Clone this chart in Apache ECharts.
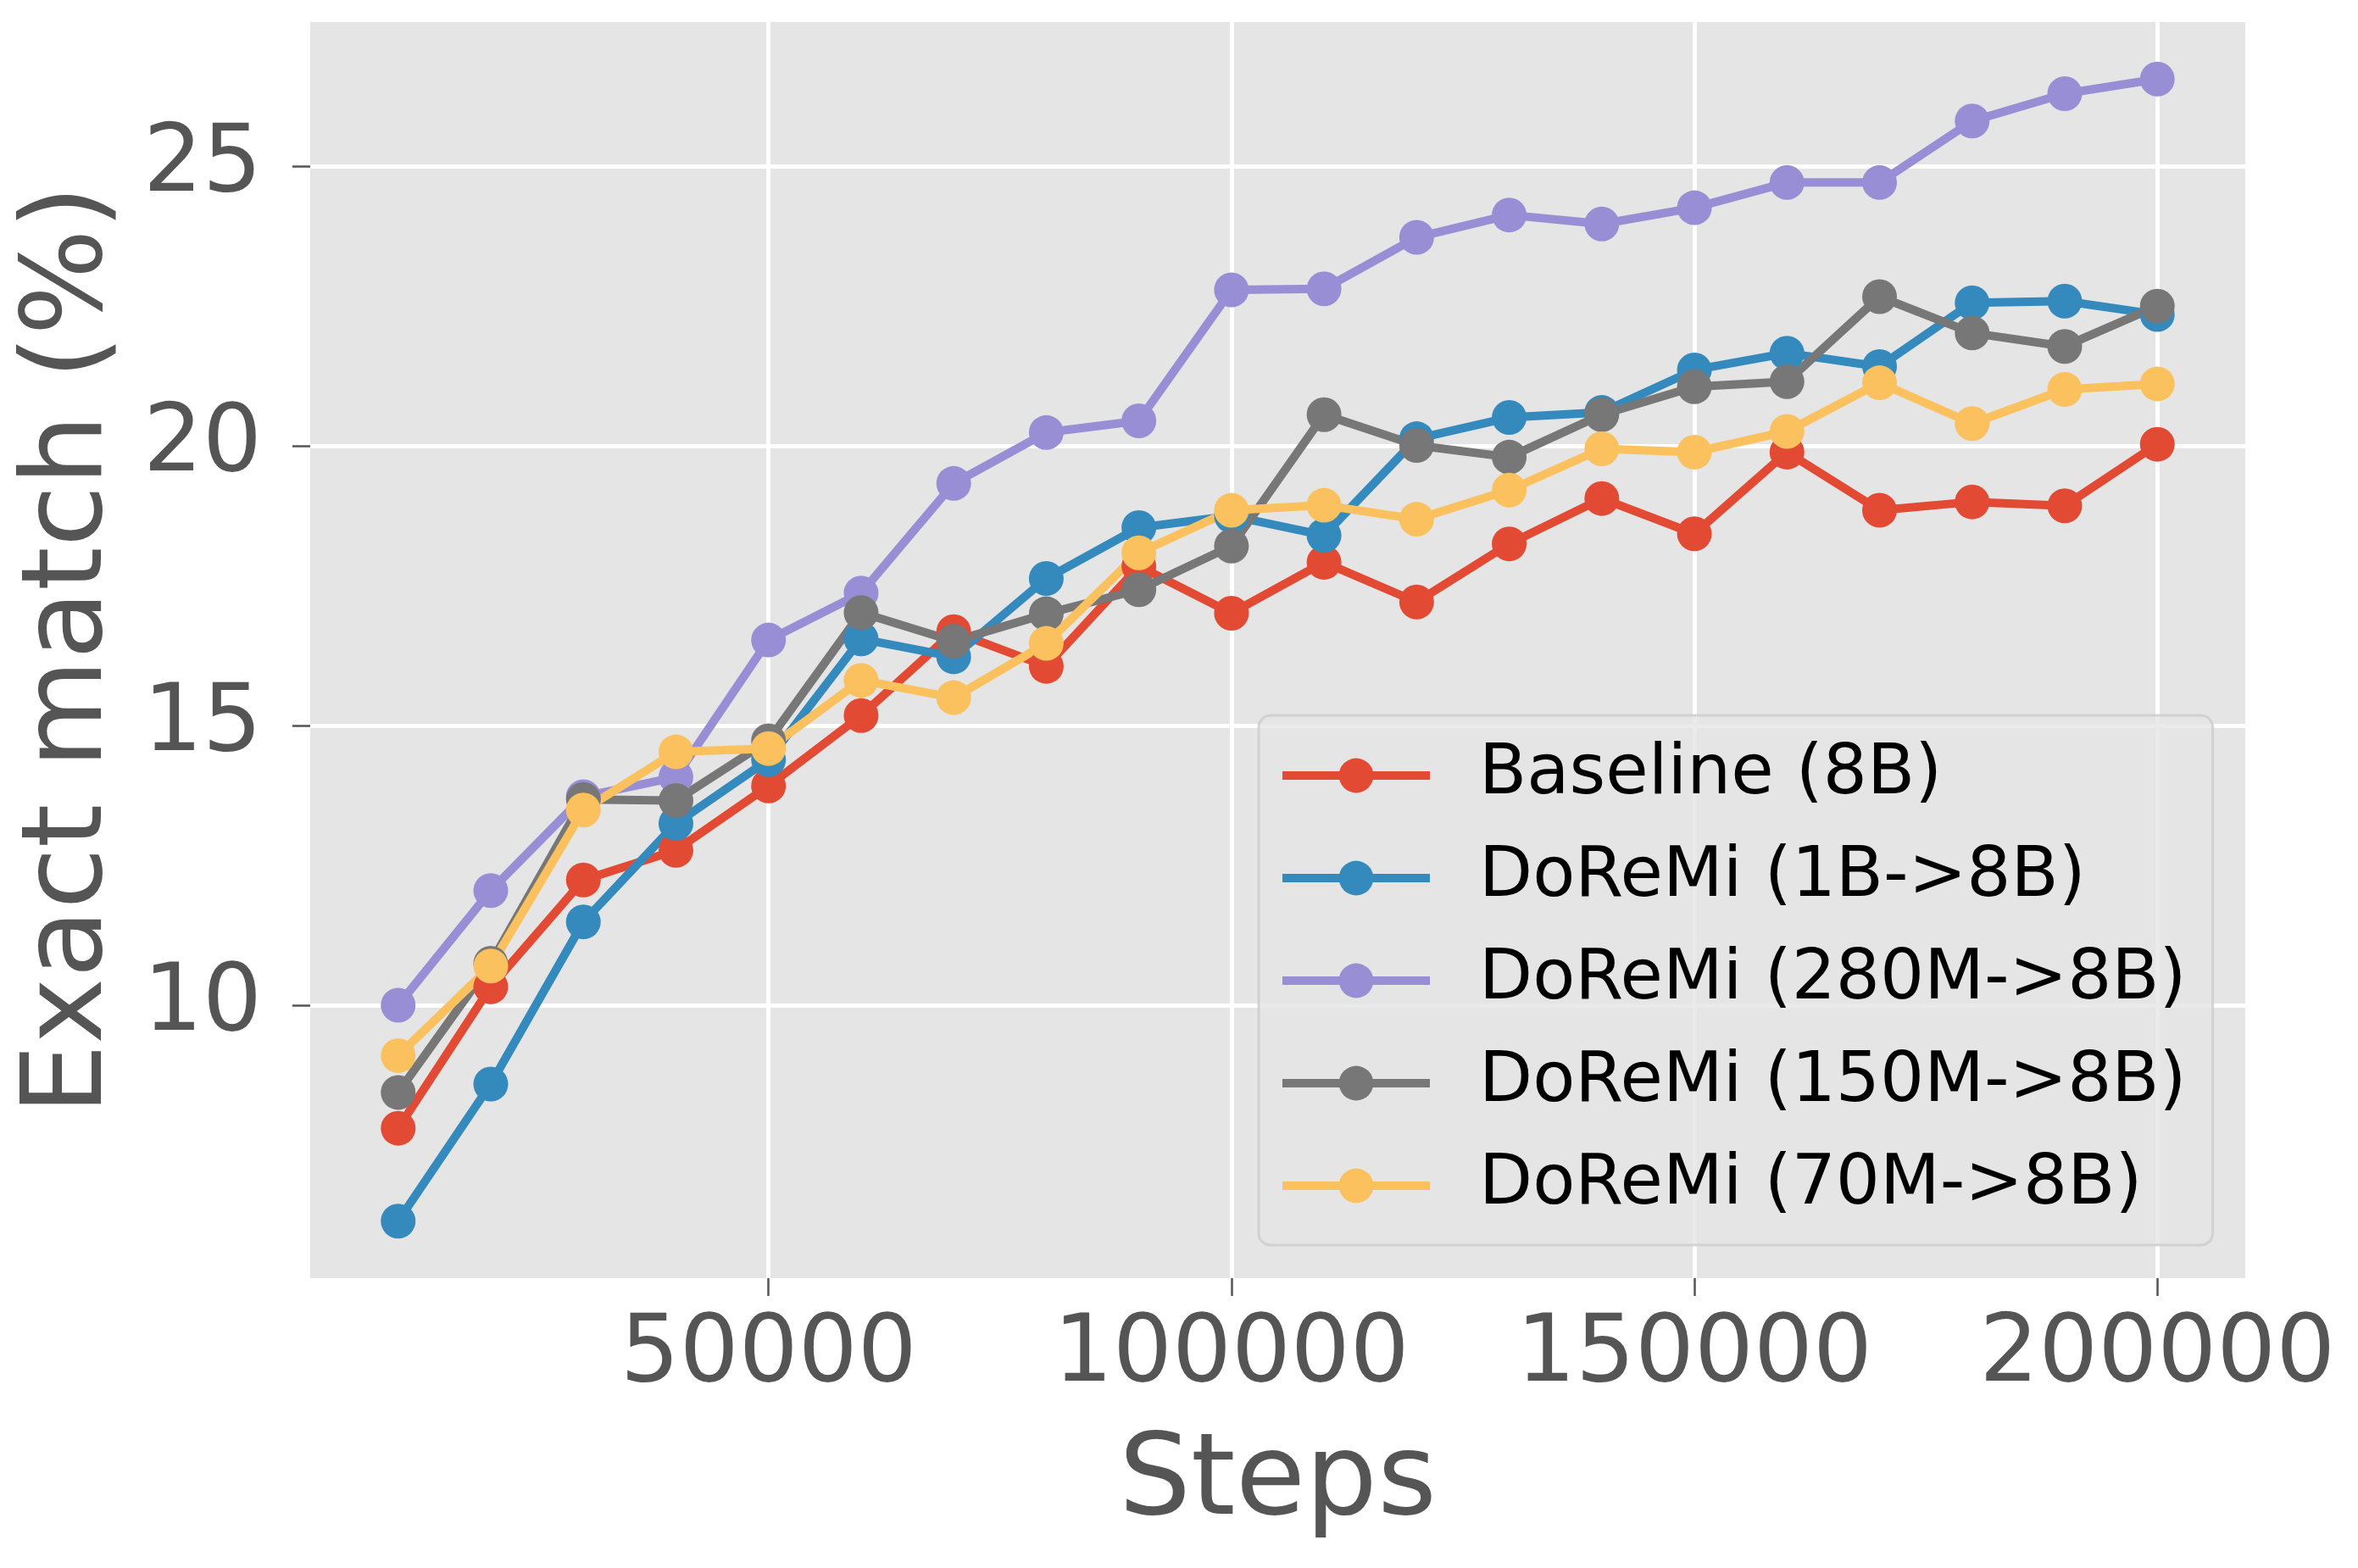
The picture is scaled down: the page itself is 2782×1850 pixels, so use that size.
<!DOCTYPE html>
<html lang="en">
<head>
    <meta charset="UTF-8">
    <title>Exact match vs steps</title>
    <style>
        html, body { margin: 0; padding: 0; background: #fff; }
        #main { width: 2782px; height: 1850px; }
    </style>
</head>
<body>
    <div id="main"></div>
    <script src="https://cdn.jsdelivr.net/npm/echarts@6/dist/echarts.min.js"></script>
    <script>
        // training steps (x)
        var steps = [10000, 20000, 30000, 40000, 50000, 60000, 70000, 80000, 90000, 100000,
                     110000, 120000, 130000, 140000, 150000, 160000, 170000, 180000, 190000, 200000];

        var baseline8B = [7.80, 10.33, 12.24, 12.77, 13.92, 15.18, 16.68, 16.06, 17.85, 17.01,
                          17.92, 17.21, 18.25, 19.06, 18.43, 19.89, 18.85, 19.00, 18.93, 20.03];
        var doremi1B = [6.14, 8.59, 11.49, 13.25, 14.39, 16.55, 16.23, 17.63, 18.54, 18.75,
                        18.40, 20.13, 20.51, 20.60, 21.36, 21.66, 21.42, 22.56, 22.59, 22.35];
        var doremi280M = [10.00, 12.05, 13.73, 14.08, 16.53, 17.37, 19.33, 20.24, 20.45, 22.79,
                          22.81, 23.73, 24.13, 23.97, 24.26, 24.71, 24.71, 25.81, 26.30, 26.56];
        var doremi150M = [8.44, 10.75, 13.68, 13.66, 14.73, 17.02, 16.51, 17.00, 17.43, 18.21,
                          20.56, 20.01, 19.80, 20.56, 21.06, 21.15, 22.67, 22.02, 21.78, 22.50];
        var doremi70M = [9.10, 10.70, 13.49, 14.53, 14.59, 15.81, 15.50, 16.47, 18.09, 18.85,
                         18.94, 18.69, 19.21, 19.95, 19.89, 20.26, 21.13, 20.40, 21.01, 21.11];

        var seriesNames = ['Baseline (8B)', 'DoReMi (1B->8B)', 'DoReMi (280M->8B)', 'DoReMi (150M->8B)', 'DoReMi (70M->8B)'];
        var seriesValues = [baseline8B, doremi1B, doremi280M, doremi150M, doremi70M];
        var colors = ['#E24A33', '#348ABD', '#988ED5', '#777777', '#FBC15E'];

        var xTicks = [50000, 100000, 150000, 200000];
        var yTicks = [10, 15, 20, 25];

        var font = 'DejaVu Sans';

        function pairs(vals) {
            return vals.map(function (v, i) { return [steps[i], v]; });
        }

        var myChart = echarts.init(document.getElementById('main'));

        var series = seriesNames.map(function (name, i) {
            return {
                name: name,
                type: 'line',
                data: pairs(seriesValues[i]),
                symbol: 'circle',
                symbolSize: 41,
                showAllSymbol: true,
                lineStyle: { width: 10, color: colors[i] },
                itemStyle: { color: colors[i] }
            };
        });

        var option = {
            animation: false,
            backgroundColor: '#ffffff',
            color: colors,
            grid: {
                left: 366,
                right: 133,
                top: 26,
                bottom: 342,
                show: true,
                backgroundColor: '#E5E5E5',
                borderWidth: 0
            },
            legend: {
                left: 1485,
                top: 844,
                orient: 'vertical',
                itemWidth: 174,
                itemHeight: 51,
                itemGap: 39,
                padding: [30, 31, 29, 23],
                backgroundColor: 'rgba(229,229,229,0.8)',
                borderColor: 'rgba(204,204,204,0.8)',
                borderWidth: 3,
                borderRadius: 14,
                lineStyle: { width: 10 },
                textStyle: {
                    fontFamily: font,
                    fontSize: 82,
                    color: '#000',
                    padding: [0, 0, 0, 53]
                },
                data: seriesNames
            },
            xAxis: {
                type: 'value',
                min: 500,
                max: 209500,
                name: 'Steps',
                nameLocation: 'middle',
                nameGap: 176,
                nameTextStyle: { fontFamily: font, fontSize: 134, color: '#555555' },
                axisLine: { show: false },
                axisTick: {
                    show: true,
                    length: 21,
                    customValues: xTicks,
                    lineStyle: { color: '#555555', width: 2.5 }
                },
                axisLabel: {
                    customValues: xTicks,
                    margin: 37,
                    fontFamily: font,
                    fontSize: 110,
                    color: '#555555',
                    formatter: function (v) { return String(v); }
                },
                splitLine: { show: true, lineStyle: { color: '#ffffff', width: 5 } }
            },
            yAxis: {
                type: 'value',
                min: 5.12,
                max: 27.58,
                name: 'Exact match (%)',
                nameLocation: 'middle',
                nameGap: 215,
                nameTextStyle: { fontFamily: font, fontSize: 132, color: '#555555' },
                axisLine: { show: false },
                axisTick: {
                    show: true,
                    length: 21,
                    customValues: yTicks,
                    lineStyle: { color: '#555555', width: 2.5 }
                },
                axisLabel: {
                    customValues: yTicks,
                    margin: 57,
                    fontFamily: font,
                    fontSize: 110,
                    color: '#555555'
                },
                splitLine: { show: true, lineStyle: { color: '#ffffff', width: 5 } }
            },
            series: series
        };

        myChart.setOption(option);
    </script>
</body>
</html>
